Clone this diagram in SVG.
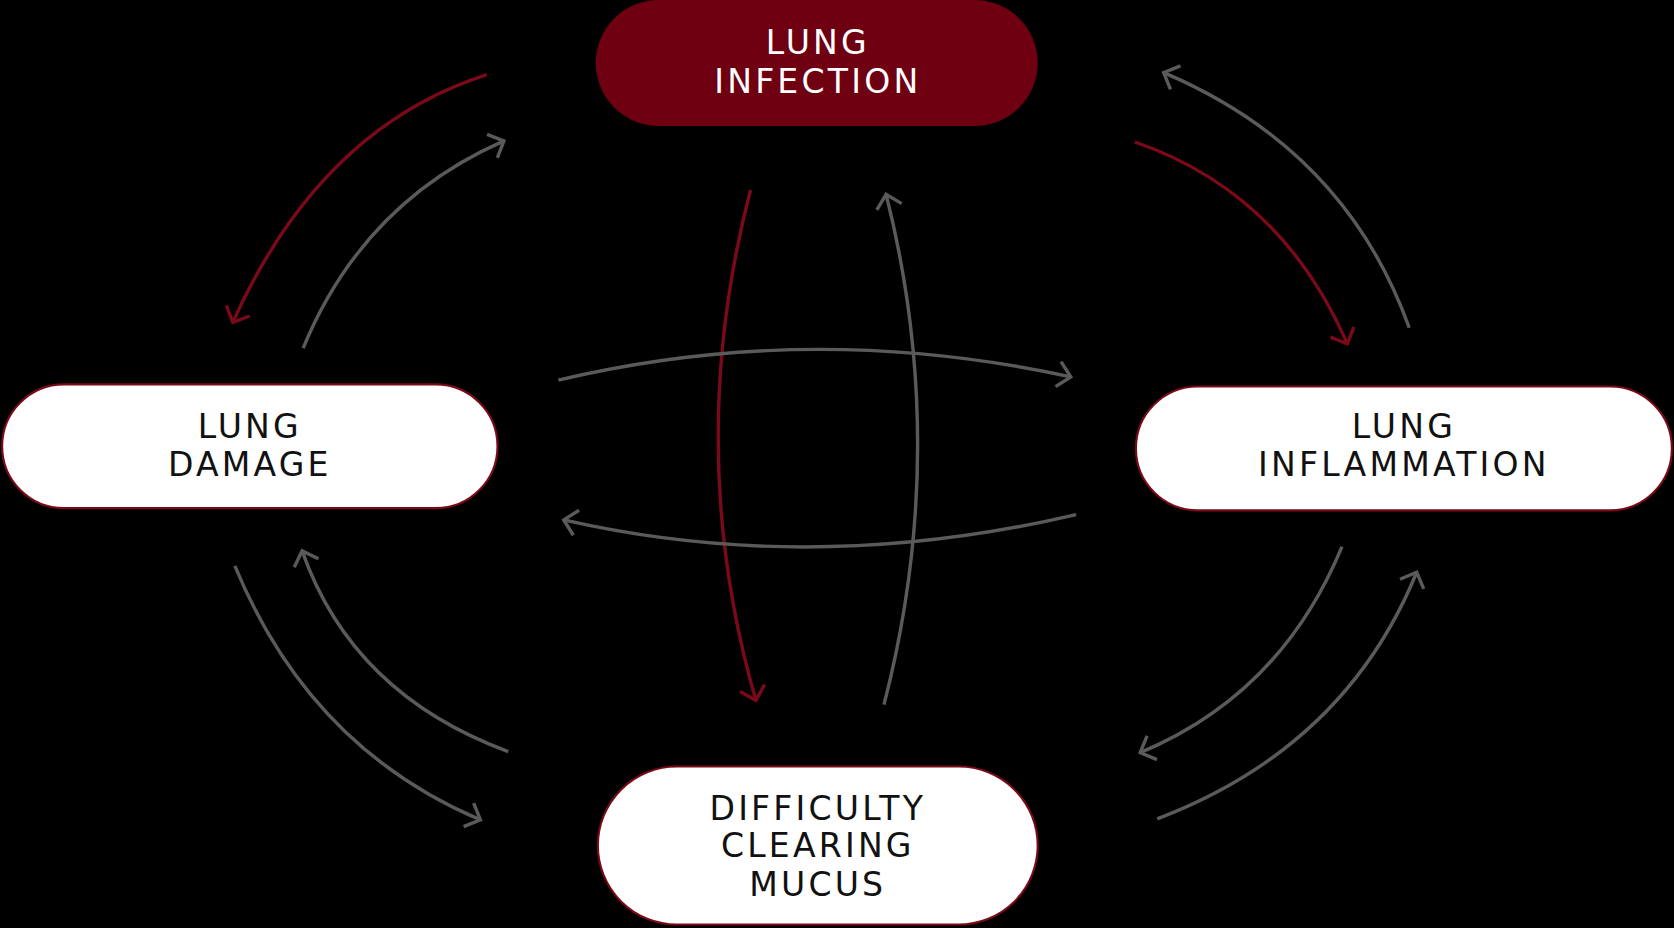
<svg xmlns="http://www.w3.org/2000/svg" width="1674" height="928" viewBox="0 0 1674 928">
<style>
.c{fill:none;stroke-width:3.2}
.g{stroke:#5a5a5a}
.r{stroke:#7a0a18}
.t{font-family:"DejaVu Sans","Liberation Sans",sans-serif;font-size:31px;letter-spacing:3px;text-anchor:middle}
</style>
<defs>
<marker id="ag" markerUnits="userSpaceOnUse" markerWidth="30" markerHeight="30" refX="14" refY="14" orient="auto" viewBox="0 0 30 30"><path d="M2,2 L14,14 L2,26" fill="none" stroke="#5a5a5a" stroke-width="3.2"/></marker>
<marker id="ar" markerUnits="userSpaceOnUse" markerWidth="30" markerHeight="30" refX="14" refY="14" orient="auto" viewBox="0 0 30 30"><path d="M2,2 L14,14 L2,26" fill="none" stroke="#7a0a18" stroke-width="3.2"/></marker>
</defs>
<rect width="1674" height="928" fill="#000"/>
<g transform="scale(1.0676)">
<g id="connectors">
<path class="c r" d="M456,70 Q300,120 218,302" marker-end="url(#ar)"/>
<path class="c g" d="M284,326 Q340,190 472,132" marker-end="url(#ag)"/>
<path class="c r" d="M1063,133 Q1200,180 1262,322" marker-end="url(#ar)"/>
<path class="c g" d="M1320,307 Q1260,140 1090,68" marker-end="url(#ag)"/>
<path class="c r" d="M703,178 Q640,420 708,656" marker-end="url(#ar)"/>
<path class="c g" d="M828,660 Q890,420 830,182" marker-end="url(#ag)"/>
<path class="c g" d="M523,356 Q760,300 1003,353" marker-end="url(#ag)"/>
<path class="c g" d="M1008,482 Q760,540 528,487" marker-end="url(#ag)"/>
<path class="c g" d="M220,530 Q290,700 450,768" marker-end="url(#ag)"/>
<path class="c g" d="M476,704 Q330,650 283,516" marker-end="url(#ag)"/>
<path class="c g" d="M1257,512 Q1200,650 1068,705" marker-end="url(#ag)"/>
<path class="c g" d="M1084,767 Q1260,700 1327,536" marker-end="url(#ag)"/>
</g>
<g id="infection">
<rect x="558" y="0" width="414" height="118" rx="59" fill="#6e0012"/>
<text class="t" x="766" y="51" fill="#fff">LUNG</text>
<text class="t" x="766" y="87" fill="#fff">INFECTION</text>
</g>
<g id="damage">
<rect x="2" y="360" width="464" height="116" rx="58" fill="#fff" stroke="#7a0a18" stroke-width="2"/>
<text class="t" x="234" y="410" fill="#111">LUNG</text>
<text class="t" x="234" y="446" fill="#111">DAMAGE</text>
</g>
<g id="inflammation">
<rect x="1064" y="362" width="502" height="116" rx="58" fill="#fff" stroke="#7a0a18" stroke-width="2"/>
<text class="t" x="1315" y="410" fill="#111">LUNG</text>
<text class="t" x="1315" y="446" fill="#111">INFLAMMATION</text>
</g>
<g id="mucus">
<rect x="560" y="718" width="412" height="148" rx="74" fill="#fff" stroke="#7a0a18" stroke-width="2"/>
<text class="t" x="766" y="768" fill="#111">DIFFICULTY</text>
<text class="t" x="766" y="803" fill="#111">CLEARING</text>
<text class="t" x="766" y="839" fill="#111">MUCUS</text>
</g>
</g>
</svg>
